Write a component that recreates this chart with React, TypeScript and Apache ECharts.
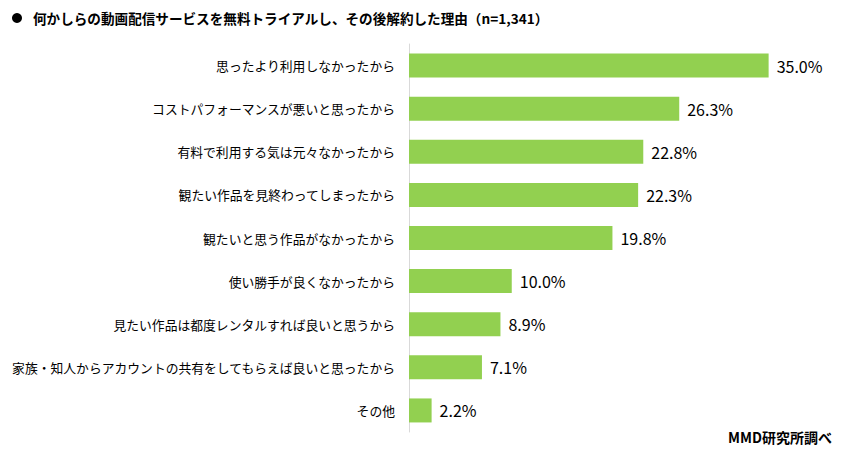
import React, { useEffect, useRef } from "react";
import * as echarts from "echarts";

const categories = [
  "思ったより利用しなかったから",
  "コストパフォーマンスが悪いと思ったから",
  "有料で利用する気は元々なかったから",
  "観たい作品を見終わってしまったから",
  "観たいと思う作品がなかったから",
  "使い勝手が良くなかったから",
  "見たい作品は都度レンタルすれば良いと思うから",
  "家族・知人からアカウントの共有をしてもらえば良いと思ったから",
  "その他",
];
const values = [35.0, 26.3, 22.8, 22.3, 19.8, 10.0, 8.9, 7.1, 2.2];
const titleText = "何かしらの動画配信サービスを無料トライアルし、その後解約した理由（n=1,341）";
const sourceText = "MMD研究所調べ";

const FONT = "'Noto Sans CJK JP', 'Noto Sans', sans-serif";

export default function App() {
  const ref = useRef<HTMLDivElement>(null);
  useEffect(() => {
    if (!ref.current) return;
    const chart = echarts.init(ref.current, null, { renderer: "svg" });
    chart.setOption({
      animation: false,
      backgroundColor: "#ffffff",
      textStyle: { fontFamily: FONT },
      graphic: [
        { type: "circle", shape: { cx: 17, cy: 18, r: 5 }, style: { fill: "#000" } },
        {
          type: "text",
          x: 33,
          y: 18,
          style: {
            text: titleText,
            font: `bold 13.6px ${FONT}`,
            fill: "#000",
            textVerticalAlign: "middle",
          },
        },
        {
          type: "text",
          right: 10,
          top: 430,
          style: {
            text: sourceText,
            font: `bold 14px ${FONT}`,
            fill: "#000",
          },
        },
      ],
      grid: {
        left: 409,
        top: 44,
        width: 411,
        height: 388,
        containLabel: false,
        outerBoundsMode: "none",
      },
      xAxis: {
        type: "value",
        min: 0,
        max: 40,
        show: false,
      },
      yAxis: {
        type: "category",
        inverse: true,
        data: categories,
        axisLine: { show: true, lineStyle: { color: "#d9d9d9", width: 1 } },
        axisTick: { show: false },
        axisLabel: {
          color: "#000",
          fontSize: 12.8,
          fontFamily: FONT,
          margin: 14,
        },
      },
      series: [
        {
          type: "bar",
          data: values,
          barWidth: 24,
          itemStyle: { color: "#92D050" },
          label: {
            show: true,
            position: "right",
            distance: 8,
            color: "#000",
            fontSize: 16,
            fontFamily: FONT,
            formatter: (p: any) => p.value.toFixed(1) + "%",
          },
        },
      ],
    });
    return () => chart.dispose();
  }, []);
  return <div ref={ref} style={{ width: 842, height: 458, margin: -8 }} />;
}
